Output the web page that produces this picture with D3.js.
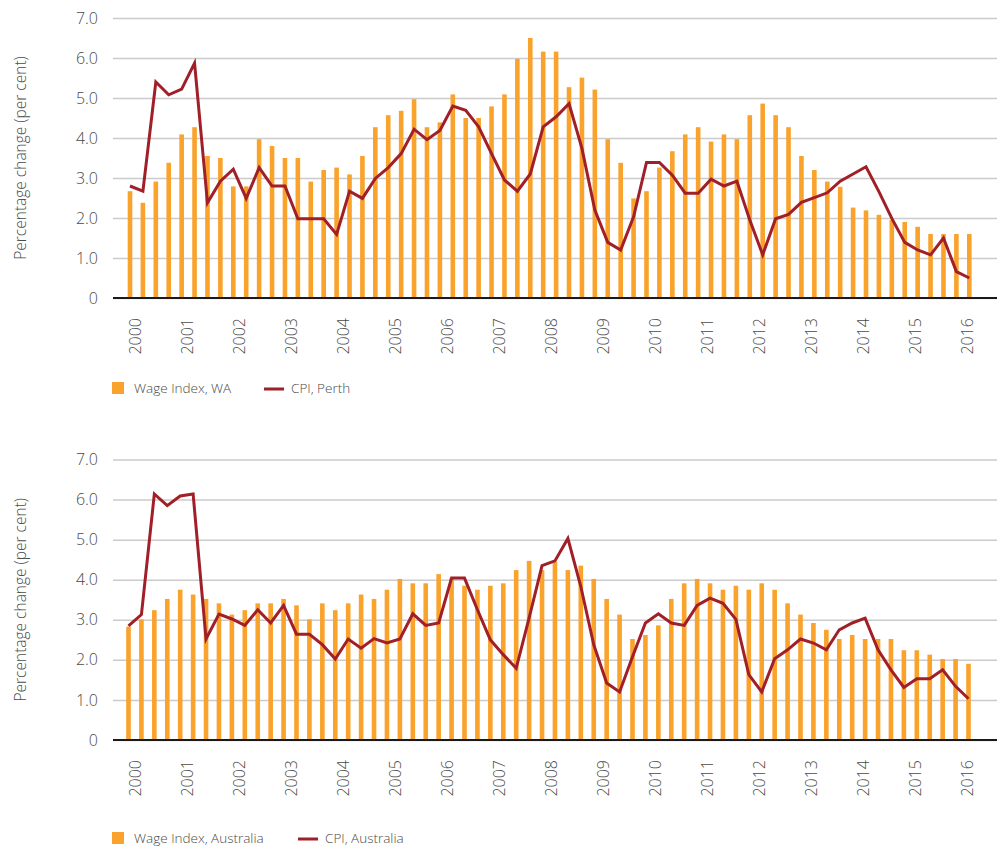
<!DOCTYPE html>
<html>
<head>
<meta charset="utf-8">
<script src="https://cdn.jsdelivr.net/npm/d3@7"></script>
<style>
body { margin: 0; background: #fff; }
text { font-family: "Open Sans", sans-serif; font-weight: 300; fill: #4a4a4a; }
</style>
</head>
<body>
<div id="chart"></div>
<script>
// quarterly data, 66 quarters starting 2000
var years = [2000, 2001, 2002, 2003, 2004, 2005, 2006, 2007, 2008, 2009, 2010, 2011, 2012, 2013, 2014, 2015, 2016];
var yTicks = [0, 1, 2, 3, 4, 5, 6, 7];

var wageWA = [2.67, 2.38, 2.91, 3.38, 4.09, 4.27, 3.55, 3.50, 2.79, 2.79, 3.97, 3.80, 3.50, 3.50, 2.91, 3.20,
    3.26, 3.09, 3.55, 4.27, 4.57, 4.68, 4.97, 4.27, 4.39, 5.09, 4.50, 4.50, 4.79, 5.09, 5.98, 6.50,
    6.16, 6.16, 5.27, 5.51, 5.21, 3.97, 3.38, 2.49, 2.67, 3.26, 3.67, 4.09, 4.27, 3.91, 4.09, 3.97,
    4.57, 4.86, 4.57, 4.27, 3.55, 3.20, 2.91, 2.78, 2.26, 2.19, 2.08, 1.95, 1.90, 1.78, 1.60, 1.60,
    1.60, 1.60];
var cpiPerth = [2.80, 2.67, 5.40, 5.08, 5.22, 5.87, 2.38, 2.92, 3.22, 2.49, 3.26, 2.80, 2.80, 1.98, 1.98, 1.98,
    1.59, 2.67, 2.49, 2.99, 3.26, 3.61, 4.22, 3.96, 4.19, 4.80, 4.69, 4.28, 3.61, 2.95, 2.67, 3.10,
    4.28, 4.53, 4.86, 3.74, 2.20, 1.39, 1.20, 2.03, 3.39, 3.39, 3.07, 2.62, 2.62, 2.97, 2.80, 2.92,
    1.95, 1.08, 1.98, 2.09, 2.39, 2.51, 2.63, 2.92, 3.10, 3.28, 2.66, 1.99, 1.39, 1.20, 1.08, 1.50,
    0.66, 0.50];
var wageAus = [2.83, 3.01, 3.24, 3.52, 3.75, 3.63, 3.52, 3.41, 3.13, 3.24, 3.41, 3.41, 3.52, 3.36, 3.01, 3.41,
    3.24, 3.41, 3.63, 3.52, 3.75, 4.02, 3.91, 3.91, 4.14, 4.03, 3.85, 3.75, 3.85, 3.91, 4.24, 4.47,
    4.24, 4.45, 4.24, 4.35, 4.02, 3.52, 3.13, 2.52, 2.62, 2.86, 3.52, 3.91, 4.02, 3.91, 3.75, 3.85,
    3.75, 3.91, 3.75, 3.41, 3.13, 2.92, 2.75, 2.52, 2.62, 2.52, 2.52, 2.52, 2.24, 2.24, 2.13, 2.02,
    2.02, 1.90];
var cpiAus = [2.85, 3.13, 6.14, 5.85, 6.09, 6.14, 2.52, 3.14, 3.02, 2.86, 3.25, 2.92, 3.36, 2.64, 2.64, 2.38,
    2.02, 2.52, 2.29, 2.53, 2.42, 2.52, 3.15, 2.86, 2.92, 4.04, 4.04, 3.25, 2.50, 2.13, 1.79, 3.05,
    4.35, 4.47, 5.03, 3.83, 2.38, 1.42, 1.20, 2.08, 2.92, 3.15, 2.92, 2.86, 3.36, 3.54, 3.41, 3.01,
    1.63, 1.20, 2.03, 2.25, 2.52, 2.42, 2.25, 2.75, 2.92, 3.04, 2.25, 1.75, 1.31, 1.53, 1.53, 1.75,
    1.34, 1.03];

var barColor = "#F9A22C", lineColor = "#A01F28";
var width = 997, height = 846;
var left = 113;

var svg = d3.select("#chart").append("svg")
    .attr("width", width)
    .attr("height", height);

function panel(cfg) {
    var g = svg.append("g");

    var x = d3.scaleLinear().domain([0, cfg.bars.length - 1]).range([cfg.x0, cfg.x1]);
    var xYear = d3.scaleLinear().domain([years[0], years[years.length - 1]]).range([135, 966.7]);
    var y = d3.scaleLinear().domain([0, 7]).range([cfg.bottom, cfg.top]);

    // gridlines + y labels
    var yAxis = d3.axisLeft(y)
        .tickValues(yTicks)
        .tickSize(-(width - left))
        .tickPadding(15)
        .tickFormat(function(d) { return d === 0 ? "0" : d.toFixed(1); });
    var ya = g.append("g")
        .attr("transform", "translate(" + left + ",0)")
        .call(yAxis);
    ya.select(".domain").remove();
    ya.selectAll("line").attr("stroke", "#cbcbcb").attr("stroke-width", 1.5);
    ya.selectAll("text").style("font-size", "16px").attr("fill", "#4a4a4a");

    // bars
    g.append("g").selectAll("rect")
        .data(cfg.bars)
        .enter().append("rect")
        .attr("x", function(d, i) { return x(i) - 2.3; })
        .attr("y", function(d) { return y(d); })
        .attr("width", 4.6)
        .attr("height", function(d) { return y(0) - y(d); })
        .attr("fill", barColor);

    // baseline
    g.append("line")
        .attr("x1", left).attr("x2", width)
        .attr("y1", y(0)).attr("y2", y(0))
        .attr("stroke", "#1a1a1a").attr("stroke-width", 2);

    // CPI line
    var line = d3.line()
        .x(function(d, i) { return x(i); })
        .y(function(d) { return y(d); });
    g.append("path")
        .datum(cfg.line)
        .attr("d", line)
        .attr("fill", "none")
        .attr("stroke", lineColor)
        .attr("stroke-width", 3)
        .attr("stroke-linejoin", "miter");

    // year labels
    var xa = g.append("g")
        .attr("transform", "translate(0," + y(0) + ")")
        .call(d3.axisBottom(xYear).tickValues(years).tickSize(0).tickFormat(d3.format("d")));
    xa.select(".domain").remove();
    xa.selectAll("text")
        .attr("transform", "rotate(-90)")
        .attr("x", -20)
        .attr("y", 0)
        .attr("dy", "0.36em")
        .style("text-anchor", "end")
        .style("font-size", "16px")
        .attr("fill", "#4a4a4a");

    // y axis title
    g.append("text")
        .attr("transform", "rotate(-90)")
        .attr("x", -(cfg.top + cfg.bottom) / 2)
        .attr("y", 21)
        .attr("dy", "0.35em")
        .style("text-anchor", "middle")
        .style("font-size", "15.5px")
        .text("Percentage change (per cent)");

    // legend
    var lg = g.append("g").attr("transform", "translate(0," + cfg.legendY + ")");
    lg.append("rect").attr("x", 112).attr("y", -6).attr("width", 12).attr("height", 12).attr("fill", barColor);
    lg.append("text").attr("x", 134).attr("y", 0).attr("dy", "0.35em")
        .style("font-size", "13.5px").text(cfg.barName);
    lg.append("line").attr("x1", cfg.lineLegX).attr("x2", cfg.lineLegX + 20).attr("y1", 1).attr("y2", 1)
        .attr("stroke", lineColor).attr("stroke-width", 3);
    lg.append("text").attr("x", cfg.lineLegX + 27).attr("y", 0).attr("dy", "0.35em")
        .style("font-size", "13.5px").text(cfg.lineName);
}

panel({ bars: wageWA, line: cpiPerth, top: 18, bottom: 298, x0: 130, x1: 969.3,
    legendY: 388, barName: "Wage Index, WA", lineName: "CPI, Perth", lineLegX: 264 });
panel({ bars: wageAus, line: cpiAus, top: 459.5, bottom: 740, x0: 128.5, x1: 968.5,
    legendY: 838, barName: "Wage Index, Australia", lineName: "CPI, Australia", lineLegX: 298 });
</script>
</body>
</html>
